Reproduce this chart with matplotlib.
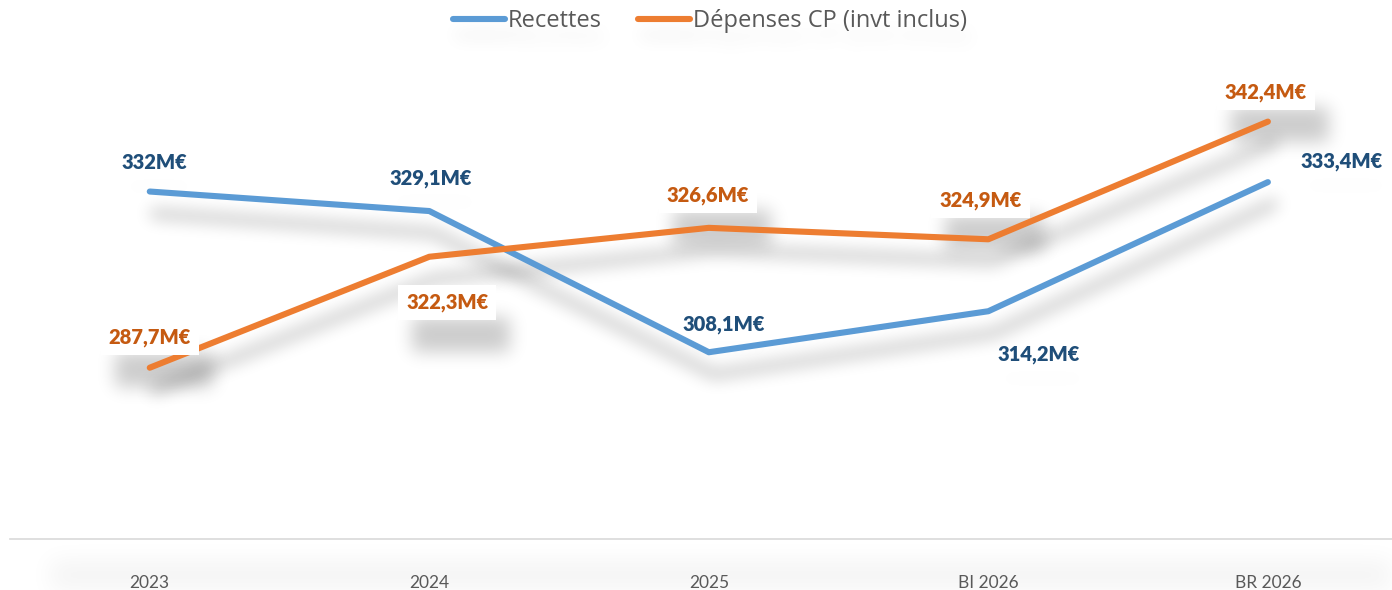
import numpy as np
import matplotlib
matplotlib.use("Agg")
import matplotlib.pyplot as plt
from matplotlib.lines import Line2D
from matplotlib.patches import Rectangle

# ---------------- data ----------------
categories = ["2023", "2024", "2025", "BI 2026", "BR 2026"]
recettes = [332.0, 329.1, 308.1, 314.2, 333.4]
# plotted positions of the expenses series
depenses = [305.8, 322.3, 326.6, 324.9, 342.4]
# values printed in the data labels
recettes_labels = [332.0, 329.1, 308.1, 314.2, 333.4]
depenses_labels = [287.7, 322.3, 326.6, 324.9, 342.4]
series_names = ["Recettes", "Dépenses CP (invt inclus)"]


def fmt(v):
    if abs(v - round(v)) < 1e-9:
        return f"{int(round(v))}M€"
    return f"{v:.1f}".replace(".", ",") + "M€"


# ---------------- shadow filter ----------------
def smooth1d(x, window_len):
    s = np.r_[2 * x[0] - x[window_len:1:-1], x, 2 * x[-1] - x[-1:-window_len:-1]]
    w = np.hanning(window_len)
    y = np.convolve(w / w.sum(), s, mode="same")
    return y[window_len - 1:-window_len + 1]


def smooth2d(A, sigma):
    window_len = max(int(sigma), 3) * 2 + 1
    A = np.apply_along_axis(smooth1d, 0, A, window_len)
    A = np.apply_along_axis(smooth1d, 1, A, window_len)
    return A


class DropShadow:
    def __init__(self, sigma_px, alpha, dx_px, dy_px, color=(0.0, 0.0, 0.0)):
        self.sigma = sigma_px
        self.alpha = alpha
        self.dx = dx_px
        self.dy = dy_px
        self.color = color

    def __call__(self, im, dpi):
        pad = int(self.sigma * 3 + max(abs(self.dx), abs(self.dy)))
        src = np.pad(im, [(pad, pad), (pad, pad), (0, 0)], "constant")
        a = smooth2d(src[:, :, 3], self.sigma)
        a = smooth2d(a, self.sigma)
        a = np.roll(a, int(self.dx), axis=1)
        a = np.roll(a, int(self.dy), axis=0)
        out = np.empty_like(src)
        out[:, :, :3] = self.color
        out[:, :, 3] = np.clip(a * self.alpha, 0, 1)
        return out, -pad, -pad


# ---------------- figure ----------------
W, H = 1392, 590
fig = plt.figure(figsize=(W / 100, H / 100), dpi=100)
fig.patch.set_facecolor("white")

ax_left, ax_right = 10, 1392
ax_bottom_px, ax_top_px = 538.5, 70.5  # from top
ax = fig.add_axes([ax_left / W, 1 - ax_bottom_px / H,
                   (ax_right - ax_left) / W, (ax_bottom_px - ax_top_px) / H])
ax.set_facecolor("none")

# soft grey haze below the category axis
band = Rectangle((50 / W, -20 / H), (W - 20) / W, 50 / H, transform=fig.transFigure,
                 fc="black", ec="none", zorder=0)
band.set_agg_filter(DropShadow(22, 0.045, 0, 0))
fig.add_artist(band)

x = np.arange(len(categories))
ax.set_xlim(-0.5, 4.444)
ax.set_ylim(280.4, 350.0)

blue = "#5B9BD5"
orange = "#ED7D31"
blue_lbl = "#1F4E79"
orange_lbl = "#C55A11"
lw = 4.4

# line shadows
for vals in (recettes, depenses):
    sh, = ax.plot(x, vals, color="black", lw=lw * 1.8, solid_capstyle="round",
                  solid_joinstyle="round", zorder=1)
    sh.set_agg_filter(DropShadow(15, 0.2, 5, 22))

ax.plot(x, recettes, color=blue, lw=lw, solid_capstyle="round",
        solid_joinstyle="round", zorder=3, label=series_names[0])
ax.plot(x, depenses, color=orange, lw=lw, solid_capstyle="round",
        solid_joinstyle="round", zorder=3, label=series_names[1])

# label offsets (pixels)
rec_off = [(5, 29), (1, 33), (15, 28), (50, -43), (74, 21)]
dep_off = [(0, 30), (18, -46), (-1, 32), (-8, 39), (-2, 29)]

lbl_font = dict(family=["Lato", "DejaVu Sans"], fontsize=14.5, fontweight="heavy")

for i, (v, lv) in enumerate(zip(recettes, recettes_labels)):
    t = ax.annotate(fmt(lv), xy=(x[i], v), xytext=rec_off[i], textcoords="offset pixels",
                    ha="center", va="center", color="black", zorder=2,
                    bbox=dict(boxstyle="square,pad=0.3", fc="black", ec="none"), **lbl_font)
    t.set_agg_filter(DropShadow(12, 0.07, 2, 12))
    ax.annotate(fmt(lv), xy=(x[i], v), xytext=rec_off[i], textcoords="offset pixels",
                ha="center", va="center", color=blue_lbl, zorder=5, **lbl_font)

box = dict(boxstyle="square,pad=0.4", fc="white", ec="none")
box_sh = dict(boxstyle="square,pad=0.4", fc="black", ec="none")
for i, (v, lv) in enumerate(zip(depenses, depenses_labels)):
    t = ax.annotate(fmt(lv), xy=(x[i], v), xytext=dep_off[i], textcoords="offset pixels",
                    ha="center", va="center", color="black", zorder=2, bbox=box_sh, **lbl_font)
    t.set_agg_filter(DropShadow(12, 0.45, 7, 16))
    ax.annotate(fmt(lv), xy=(x[i], v), xytext=dep_off[i], textcoords="offset pixels",
                ha="center", va="center", color=orange_lbl, zorder=6, bbox=box, **lbl_font)

# axes styling
for s in ("left", "right", "top"):
    ax.spines[s].set_visible(False)
ax.spines["bottom"].set_color("#D9D9D9")
ax.spines["bottom"].set_linewidth(1.2)
ax.set_yticks([])
ax.set_xticks(x)
ax.set_xticklabels(categories, family=["Lato", "DejaVu Sans"], fontsize=12.5, color="#595959")
ax.tick_params(axis="x", length=0, pad=26)

# legend
handles = [Line2D([], [], color=blue, lw=lw, solid_capstyle="round"),
           Line2D([], [], color=orange, lw=lw, solid_capstyle="round")]
leg_kw = dict(loc="center", bbox_to_anchor=(710 / W, 1 - 21 / H),
              ncol=2, frameon=False, handlelength=2.2, handletextpad=0.12,
              columnspacing=1.55, prop={"family": ["Open Sans", "DejaVu Sans"], "size": 17})
leg_sh = fig.legend(handles, series_names, **leg_kw)
for t in leg_sh.get_texts():
    t.set_color("black")
leg_sh.set_agg_filter(DropShadow(16, 0.08, 4, 16))
leg_sh.set_zorder(0)
leg = fig.legend(handles, series_names, **leg_kw)
for t in leg.get_texts():
    t.set_color("#595959")

fig.savefig("out.png", dpi=100, facecolor="white")
